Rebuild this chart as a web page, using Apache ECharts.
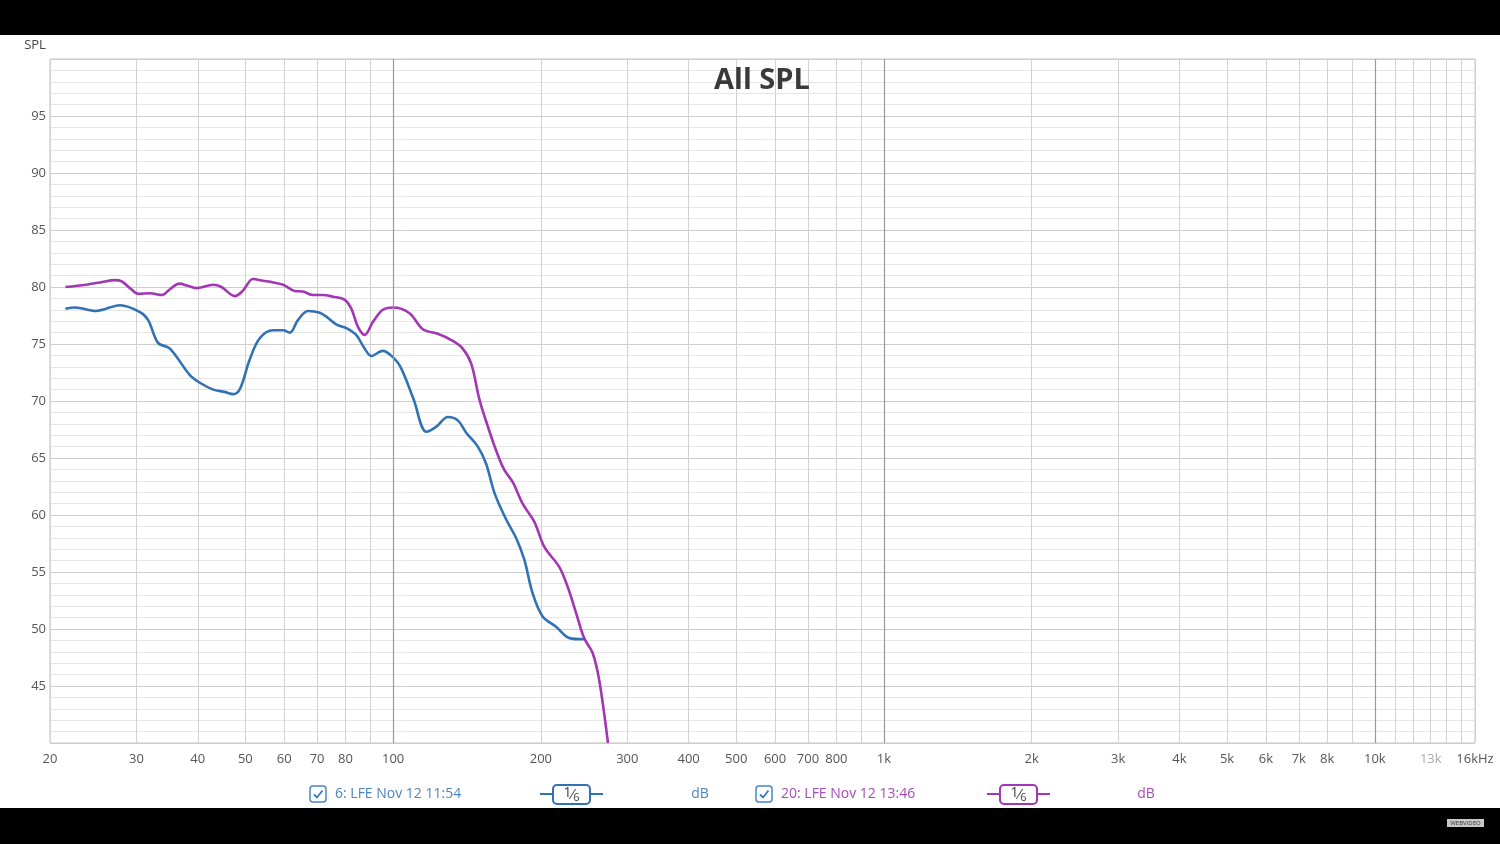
<!DOCTYPE html>
<html>
<head>
<meta charset="utf-8">
<script src="https://cdn.jsdelivr.net/npm/echarts@6/dist/echarts.min.js"></script>
<style>
html,body{margin:0;padding:0;background:#fff;}
#c{width:1500px;height:844px;}
</style>
</head>
<body>
<div id="c"></div>
<script>
// ---- data ----
const blueFreq = [21.5,22.5,24.8,27.8,30.5,31.7,33.2,35.1,38.5,40.4,43,45.4,47.2,48.8,51,53.5,57,59.7,61.6,64,67.1,70.9,73.1,76.7,80.3,84.1,87.5,90.3,95.3,99,103.5,110,117,122.5,129.3,135.5,141,148.8,154.7,161,170,178,185,192.5,201.7,214.8,228.6,245];
const blueDb   = [78.1,78.2,77.9,78.4,77.8,77.1,75.1,74.6,72.3,71.6,71.0,70.8,70.6,71.1,73.6,75.5,76.2,76.2,76.0,77.1,77.9,77.75,77.4,76.7,76.4,75.8,74.6,73.95,74.4,74.0,73.0,70.2,67.3,67.75,68.6,68.3,67.2,66.0,64.5,61.9,59.6,58.0,56.1,53.1,51.1,50.2,49.2,49.1];
const purpleFreq = [21.5,23.7,25.3,27.1,28,29.1,30.3,32,33.8,35.1,36.7,38.2,39.7,43,44.7,47.6,49.5,51.8,54.3,57,59.7,63,65.5,68.7,72,75.4,79.6,82.2,84.8,87.5,91,95.3,100,108,115,123.3,131.4,138.6,144.2,150,156,162,168.5,175.2,183.6,194,203.3,218,226.8,236,245,255,263,274];
const purpleDb   = [80.0,80.2,80.4,80.6,80.5,79.9,79.4,79.45,79.3,79.8,80.3,80.1,79.9,80.2,80.0,79.2,79.7,80.7,80.55,80.4,80.2,79.65,79.6,79.3,79.3,79.15,78.9,78.1,76.5,75.8,76.95,78.0,78.2,77.7,76.3,75.9,75.35,74.6,73.3,70.1,67.75,65.7,63.95,62.9,61.0,59.4,57.2,55.45,53.7,51.4,49.2,47.9,45.5,40.0];

const xGridValues = [20,30,40,50,60,70,80,90,100,200,300,400,500,600,700,800,900,1000,2000,3000,4000,5000,6000,7000,8000,9000,10000,11000,12000,13000,14000,15000,16000];
const xDecadeValues = [100,1000,10000];
const xLabelValues = [20,30,40,50,60,70,80,100,200,300,400,500,600,700,800,1000,2000,3000,4000,5000,6000,7000,8000,10000,13000,16000];
const xLabelNames  = ['20','30','40','50','60','70','80','100','200','300','400','500','600','700','800','1k','2k','3k','4k','5k','6k','7k','8k','10k','13k','16kHz'];
const yLabelValues = [45,50,55,60,65,70,75,80,85,90,95];

const seriesNames = ['6: LFE Nov 12 11:54','20: LFE Nov 12 13:46'];
const BLUE = '#3172b4', PURPLE = '#a236b4';

function pairs(f, d){ return f.map((v,i)=>[v,d[i]]); }

const chart = echarts.init(document.getElementById('c'), null, {renderer:'canvas'});
const FONT = '"Open Sans", "Noto Sans", sans-serif';

function checkbox(x, y){
  return [
    {type:'rect', shape:{x:x, y:y, width:16, height:16, r:3}, style:{fill:'#fff', stroke:'#4a86c6', lineWidth:1.5}},
    {type:'polyline', shape:{points:[[x+4,y+8.5],[x+7,y+11.5],[x+12.5,y+4.5]]}, style:{fill:null, stroke:'#3b78bb', lineWidth:1.8}}
  ];
}
function smoothBox(x, y, color){
  return [
    {type:'line', shape:{x1:x, y1:y, x2:x+13, y2:y}, style:{stroke:color, lineWidth:2}},
    {type:'rect', shape:{x:x+13, y:y-9, width:37, height:19, r:4}, style:{fill:'#fff', stroke:color, lineWidth:2}},
    {type:'line', shape:{x1:x+50, y1:y, x2:x+63, y2:y}, style:{stroke:color, lineWidth:2}},
    {type:'text', x:x+31.5, y:y+1, style:{text:'{a|1}{b|⁄}{c|6}', align:'center', verticalAlign:'middle',
      rich:{a:{fontSize:14, fill:'#444', fontFamily:FONT, verticalAlign:'top', lineHeight:17},
            b:{fontSize:15, fill:'#444', fontFamily:FONT, lineHeight:17},
            c:{fontSize:11, fill:'#444', fontFamily:FONT, verticalAlign:'bottom', lineHeight:17, padding:[6,0,0,0]}}}}
  ];
}

const option = {
  backgroundColor:'#fff',
  animation:false,
  grid:{left:50, right:25, top:59, bottom:101, show:true, borderColor:'#c4c4c4', borderWidth:1, backgroundColor:'transparent'},
  xAxis:{
    type:'log', min:20, max:16000, logBase:10,
    axisLine:{show:false},
    axisTick:{show:false, customValues:xGridValues},
    splitLine:{show:true, lineStyle:{color:'#d2d2d2', width:1}},
    axisLabel:{
      customValues:xLabelValues, margin:10, fontFamily:FONT, fontSize:13, color:'#555',
      formatter:function(v){
        const i = xLabelValues.findIndex(x=>Math.abs(x-v)<1e-6*x);
        if(i<0) return '';
        const t = xLabelNames[i];
        return t==='13k' ? '{f|'+t+'}' : t;
      },
      rich:{f:{color:'#aaaaaa', fontFamily:FONT, fontSize:13}}
    }
  },
  yAxis:{
    type:'value', min:40, max:100, interval:5,
    axisLine:{show:false}, axisTick:{show:false},
    minorTick:{show:false, splitNumber:5},
    minorSplitLine:{show:true, lineStyle:{color:'#e6e6e6', width:1}},
    splitLine:{show:true, lineStyle:{color:'#cdcdcd', width:1}},
    axisLabel:{margin:4, fontFamily:FONT, fontSize:13, color:'#555',
      formatter:function(v){ return yLabelValues.indexOf(v)>=0 ? String(v) : ''; }}
  },
  series:[
    {type:'line', data:[], z:1, silent:true,
      markLine:{silent:true, symbol:['none','none'], label:{show:false},
        lineStyle:{color:'#9a9a9a', width:1.2, type:'solid'},
        data:xDecadeValues.map(v=>({xAxis:v}))}},
    {name:seriesNames[0], type:'line', data:pairs(blueFreq, blueDb), showSymbol:false, smooth:0.35, z:3,
      lineStyle:{color:BLUE, width:2.6}, itemStyle:{color:BLUE}},
    {name:seriesNames[1], type:'line', data:pairs(purpleFreq, purpleDb), showSymbol:false, smooth:0.35, z:4,
      lineStyle:{color:PURPLE, width:2.6}, itemStyle:{color:PURPLE}}
  ],
  graphic:[
    {type:'rect', shape:{x:0, y:0, width:1500, height:35}, style:{fill:'#000'}, z:100},
    {type:'rect', shape:{x:0, y:808, width:1500, height:36}, style:{fill:'#000'}, z:100},
    {type:'rect', shape:{x:1447, y:819, width:37, height:8}, style:{fill:'#c8c8c8'}, z:101},
    {type:'text', x:1465.5, y:823, style:{text:'WEBVIDEO', fontSize:6, fill:'#333', align:'center', verticalAlign:'middle', fontFamily:FONT}, z:102},
    {type:'text', x:762, y:81, style:{text:'All SPL', fontSize:29, fontWeight:'bold', fill:'#3a3a3a', align:'center', verticalAlign:'middle', fontFamily:FONT}, z:10},
    {type:'text', x:35, y:45, style:{text:'SPL', fontSize:13, fill:'#444', align:'center', verticalAlign:'middle', fontFamily:FONT}},
    ...checkbox(310, 786),
    {type:'text', x:335, y:794, style:{text:seriesNames[0], fontSize:14, fill:'#4a85c4', verticalAlign:'middle', fontFamily:FONT}},
    ...smoothBox(540, 794, BLUE),
    {type:'text', x:700, y:794, style:{text:'dB', fontSize:14, fill:'#4a85c4', align:'center', verticalAlign:'middle', fontFamily:FONT}},
    ...checkbox(756, 786),
    {type:'text', x:781, y:794, style:{text:seriesNames[1], fontSize:14, fill:'#a84bbb', verticalAlign:'middle', fontFamily:FONT}},
    ...smoothBox(987, 794, PURPLE),
    {type:'text', x:1146, y:794, style:{text:'dB', fontSize:14, fill:'#a84bbb', align:'center', verticalAlign:'middle', fontFamily:FONT}}
  ]
};
chart.setOption(option);
</script>
</body>
</html>
